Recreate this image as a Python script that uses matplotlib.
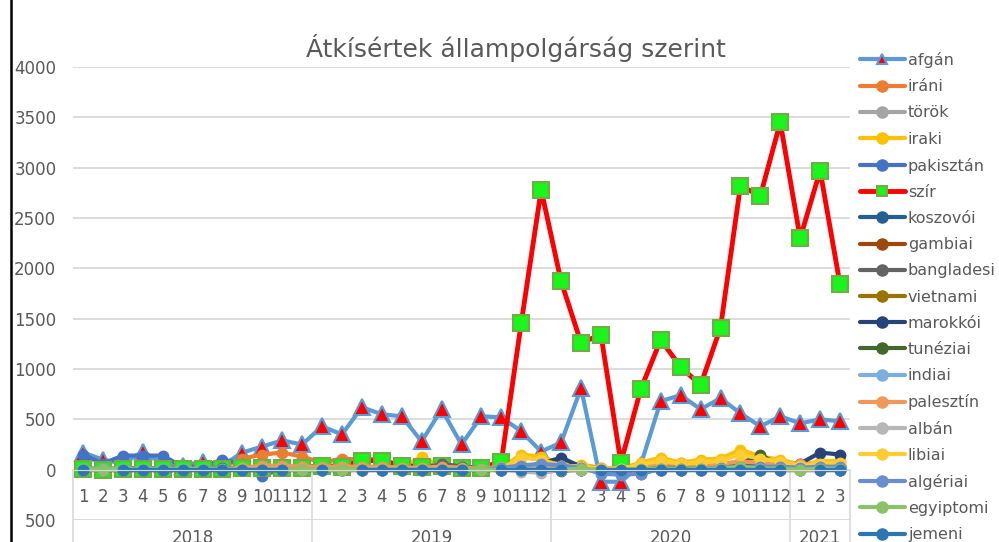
import numpy as np
import matplotlib
matplotlib.use("Agg")
import matplotlib.pyplot as plt
from matplotlib.lines import Line2D
from matplotlib.ticker import FuncFormatter

nan = np.nan

# months 2018-01 .. 2021-03
years = [2018] * 12 + [2019] * 12 + [2020] * 12 + [2021] * 3
months = list(range(1, 13)) * 3 + [1, 2, 3]

afgan = [170, 100, 60, 180, 60, 40, 80, 40, 170, 230, 290, 250,
         430, 350, 620, 550, 530, 280, 600, 250, 530, 520, 380, 180,
         270, 810, -120, -120, 50, 680, 740, 600, 710, 560, 430, 530,
         460, 500, 480]
irani = [0, 0, 0, 0, 0, 0, 10, 30, 110, 150, 170, 130,
         70, 110, 100, 110, 30, 30, 40, 30, 20, 20, 40, 50,
         40, 30, 10, 10, 30, 50, 70, 50, 60, 70, 60, 40,
         60, 40, 40]
torok = [10, 10, 10, 10, 10, 10, 10, 10, 10, 10, 10, 10,
         10, 10, 10, 10, 10, 10, 10, 10, 10, 10, 10, -10,
         10, 10, 0, 0, 10, 20, 20, 20, 20, 20, 20, 20,
         20, 20, 20]
iraki = [10, 10, 10, 10, 10, 10, 10, 10, 10, 10, 10, 10,
         10, 20, 20, 20, 20, 130, 30, 20, 0, 20, 150, 130,
         60, 50, 20, 10, 70, 120, 70, 100, 110, 200, 130, 100,
         50, 80, 90]
pakisztan = [150, 60, 140, 140, 140, 30, 30, 100, 60, -60, 10, 10,
             10, 10, 10, 10, 10, 10, 10, 10, 10, 10, 10, 10,
             10, 10, -20, -30, -40, 10, 10, 10, 10, 10, 10, 10,
             10, 10, 10]
szir = [10, 0, 10, 10, 10, 10, 10, 10, 20, 20, 20, 20,
        40, 30, 90, 90, 40, 30, 40, 20, 20, 80, 1460, 2780,
        1870, 1260, 1340, 70, 800, 1290, 1020, 840, 1410, 2820, 2720, 3450,
        2300, 2970, 1840]
koszovoi = [0] * 39
gambiai = [0] * 39
bangladesi = [0, 0, 0, 0, 0, 0, 0, 20, 0, 0, 0, 0,
              0, 0, 0, 0, 0, 0, 60, 30, 10, 0, 0, -20,
              -10, 0, 0, 0, 0, 0, 0, 0, 0, 0, 0, 0,
              0, 0, 0]
vietnami = [0] * 39
marokkoi = [0, 0, 0, 0, 0, 0, 0, 0, 0, 0, 0, 0,
            0, 0, 0, 0, 0, 0, 0, 0, 0, 10, 20, 60,
            120, 30, 10, 0, 10, 20, 20, 20, 30, 40, 50, 40,
            60, 170, 150]
tuneziai = [0, 0, 0, 0, 0, 0, 0, 0, 0, 0, 0, 0,
            0, 0, 0, 0, 0, 0, 0, 0, 0, 0, 0, 0,
            10, 10, 0, 0, 10, 20, 20, 20, 30, 60, 150, 40,
            20, 30, 30]
indiai = [10, 10, 10, 10, 10, 10, 10, 10, 10, 10, 10, 10,
          10, 10, 10, 10, 10, 10, 10, 10, 10, 20, 30, 40,
          30, 20, 0, 0, 10, 10, 10, 10, 10, 20, 20, 20,
          20, 20, 20]
palesztin = [0, 0, 0, 0, 0, 0, 0, 0, 20, 40, 40, 30,
             30, 30, 30, 30, 20, 20, 30, 20, 10, 30, 50, 40,
             40, 30, 20, 10, 40, 60, 60, 50, 60, 80, 70, 50,
             60, 50, 50]
alban = [0, 0, 0, 0, 0, 0, 0, 0, 0, 0, 0, 0,
         0, 0, 0, 0, 0, 0, 0, 0, 0, 10, -20, -30,
         0, 0, 0, 0, 0, 0, 0, 0, 0, 0, 0, 0,
         0, 0, 0]
libiai = [0, 0, 0, 0, 0, 0, 0, 0, 0, 0, 0, 0,
          0, 0, 0, 0, 0, 0, 0, 0, 0, 10, 120, 100,
          40, 30, 10, 10, 50, 90, 60, 70, 90, 150, 110, 80,
          40, 60, 70]
algeriai = [0, 0, 0, 0, 0, 0, 0, 0, 0, 0, 0, 0,
            0, 0, 0, 0, 0, 0, 0, 0, 0, 20, 40, 60,
            40, 20, -40, -50, -40, 10, 10, 10, 20, 30, 30, 30,
            20, 30, 30]
egyiptomi = [0, 0, 0, 0, 0, 0, 0, 0, 0, 0, 0, 0,
             0, 0, 0, 0, 0, 0, 0, 0, 0, 0, 0, 0,
             0, 10, 0, 0, 10, 10, 10, 10, 10, 30, 10, 10,
             0, 10, 10]
jemeni = [0, nan, 0, 0, 0, 0, 0, 0, 0, 0, 0, nan,
          0, nan, 0, 0, 0, 0, 0, 0, nan, 0, 0, 0,
          0, nan, 0, 0, 0, 0, 0, 0, 0, 0, 0, 0,
          nan, 0, 0]

series = [
    ("afgán", afgan, "#5B9BD5"),
    ("iráni", irani, "#ED7D31"),
    ("török", torok, "#A5A5A5"),
    ("iraki", iraki, "#FFC000"),
    ("pakisztán", pakisztan, "#4472C4"),
    ("szír", szir, "#FF0000"),
    ("koszovói", koszovoi, "#255E91"),
    ("gambiai", gambiai, "#9E480E"),
    ("bangladesi", bangladesi, "#636363"),
    ("vietnami", vietnami, "#997300"),
    ("marokkói", marokkoi, "#264478"),
    ("tunéziai", tuneziai, "#43682B"),
    ("indiai", indiai, "#7CAFDD"),
    ("palesztín", palesztin, "#F1975A"),
    ("albán", alban, "#B7B7B7"),
    ("libiai", libiai, "#FFCD33"),
    ("algériai", algeriai, "#698ED0"),
    ("egyiptomi", egyiptomi, "#8CC168"),
    ("jemeni", jemeni, "#2E75B6"),
]

text_c = "#595959"
grid_c = "#D9D9D9"
plt.rcParams['font.family'] = ['DejaVu Sans']

fig = plt.figure(figsize=(9.99, 5.42), dpi=100)
ax = fig.add_axes([73 / 999, 1 - 520 / 542, 777 / 999, 453 / 542])

x = np.arange(len(months))
handles = []
for name, vals, col in series:
    y = np.array(vals, dtype=float)
    if name == "afgán":
        ln, = ax.plot(x, y, color=col, lw=3, marker="^", ms=12,
                      mfc="#FF0000", mec=col, mew=1.5,
                      solid_joinstyle="round", solid_capstyle="round")
    elif name == "szír":
        ln, = ax.plot(x, y, color=col, lw=3.5, marker="s", ms=12,
                      mfc="#1AF51A", mec="#70AD47", mew=1.5,
                      solid_joinstyle="round", solid_capstyle="round")
    else:
        ln, = ax.plot(x, y, color=col, lw=3, marker="o", ms=7.5,
                      mfc=col, mec=col,
                      solid_joinstyle="round", solid_capstyle="round")
    ln.set_label(name)
    handles.append(ln)

ax.set_xlim(-0.5, len(months) - 0.5)
ax.set_ylim(-500, 4000)
ax.set_yticks(np.arange(-500, 4001, 500))
ax.yaxis.set_major_formatter(FuncFormatter(lambda v, p: "%d" % abs(v)))
ax.grid(axis="y", color=grid_c, lw=1.3)
ax.set_axisbelow(True)
for s in ["top", "right", "left"]:
    ax.spines[s].set_visible(False)
ax.spines["bottom"].set_position(("data", 0))
ax.spines["bottom"].set_color(grid_c)
ax.set_xticks(x)
ax.set_xticklabels([str(m) for m in months])
ax.tick_params(axis="x", length=0, pad=13, labelsize=12, colors=text_c)
ax.tick_params(axis="y", length=0, pad=12, labelsize=12, colors=text_c)

# category boxes for the year level
bounds = [-0.5]
for i in range(1, len(years)):
    if years[i] != years[i - 1]:
        bounds.append(i - 0.5)
bounds.append(len(years) - 0.5)
for b in bounds:
    ax.plot([b, b], [0, -900], color=grid_c, lw=1.2, clip_on=False, zorder=0)
for yr in sorted(set(years)):
    idx = [i for i, v in enumerate(years) if v == yr]
    ax.text(np.mean(idx), -585, str(yr), ha="center", va="top",
            fontsize=12, color=text_c, clip_on=False)

fig.text(516 / 999, 1 - 48 / 542, "Átkísértek állampolgárság szerint",
         ha="center", va="center", fontsize=18, color=text_c)

leg = fig.legend(handles=handles, loc="upper left",
                 bbox_to_anchor=(860 / 999, 1 - 52 / 542), frameon=False,
                 fontsize=11.5, handlelength=2.8, handletextpad=0.2,
                 labelspacing=0.70, borderaxespad=0, borderpad=0)
for t in leg.get_texts():
    t.set_color(text_c)
for h in leg.legend_handles:
    if h.get_label() in ("afgán", "szír"):
        h.set_markersize(7)
    else:
        h.set_markersize(8)

fig.add_artist(Line2D([11 / 999, 11 / 999], [0, 1], color="black", lw=1.8))

fig.savefig("out.png", dpi=100)
